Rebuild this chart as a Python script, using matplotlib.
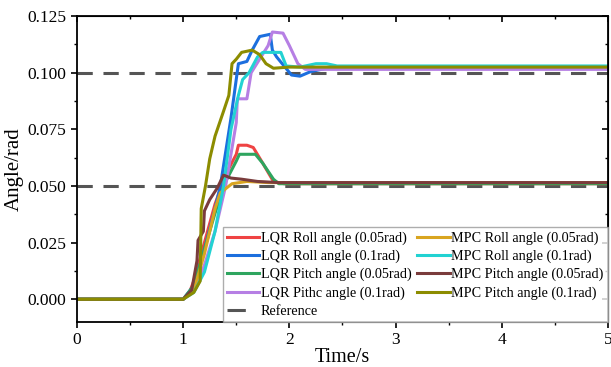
import matplotlib
matplotlib.use("Agg")
import matplotlib.pyplot as plt
from matplotlib.lines import Line2D

plt.rcParams['font.family'] = ['Liberation Serif', 'DejaVu Serif']
plt.rcParams['mathtext.fontset'] = 'stix'

# ---- data ----
t_lqr_roll_005 = [0, 1.0, 1.05, 1.1, 1.2, 1.3, 1.4, 1.5, 1.52, 1.6, 1.66, 1.75, 1.85, 1.95, 2.2, 5]
v_lqr_roll_005 = [0, 0, 0.002, 0.008, 0.025, 0.042, 0.055, 0.064, 0.068, 0.068, 0.067, 0.060, 0.052, 0.051, 0.0510, 0.0510]

t_lqr_roll_01 = [0, 1.0, 1.1, 1.2, 1.3, 1.35, 1.45, 1.52, 1.6, 1.65, 1.72, 1.82, 1.84, 1.88, 1.95, 2.02, 2.1, 2.2, 2.35, 5]
v_lqr_roll_01 = [0, 0, 0.006, 0.022, 0.040, 0.050, 0.080, 0.104, 0.105, 0.110, 0.116, 0.117, 0.110, 0.107, 0.103, 0.099, 0.0985, 0.1005, 0.102, 0.102]

t_lqr_pitch_005 = [0, 1.0, 1.1, 1.2, 1.3, 1.4, 1.5, 1.53, 1.68, 1.75, 1.85, 1.9, 5]
v_lqr_pitch_005 = [0, 0, 0.006, 0.022, 0.038, 0.052, 0.061, 0.064, 0.064, 0.060, 0.053, 0.051, 0.051]

t_lqr_pitch_01 = [0, 1.0, 1.1, 1.2, 1.3, 1.4, 1.5, 1.51, 1.6, 1.64, 1.72, 1.8, 1.84, 1.94, 2.0, 2.08, 2.15, 2.3, 5]
v_lqr_pitch_01 = [0, 0, 0.004, 0.015, 0.030, 0.050, 0.078, 0.0885, 0.0885, 0.100, 0.106, 0.112, 0.118, 0.1175, 0.112, 0.104, 0.1015, 0.1015, 0.1015]

t_mpc_roll_005 = [0, 1.0, 1.1, 1.2, 1.25, 1.3, 1.35, 1.46, 1.6, 1.8, 5]
v_mpc_roll_005 = [0, 0, 0.004, 0.020, 0.030, 0.040, 0.047, 0.051, 0.052, 0.0515, 0.0515]

t_mpc_roll_01 = [0, 1.0, 1.1, 1.2, 1.3, 1.38, 1.45, 1.52, 1.56, 1.62, 1.7, 1.75, 1.92, 1.97, 2.1, 2.25, 2.35, 2.45, 5]
v_mpc_roll_01 = [0, 0, 0.003, 0.012, 0.030, 0.050, 0.075, 0.090, 0.097, 0.100, 0.107, 0.109, 0.109, 0.103, 0.1025, 0.104, 0.104, 0.103, 0.103]

t_mpc_pitch_005 = [0, 1.0, 1.08, 1.13, 1.14, 1.19, 1.2, 1.25, 1.32, 1.38, 1.45, 1.55, 1.7, 1.9, 5]
v_mpc_pitch_005 = [0, 0, 0.004, 0.017, 0.026, 0.030, 0.039, 0.044, 0.049, 0.0548, 0.0535, 0.053, 0.052, 0.0515, 0.0515]

t_mpc_pitch_01 = [0, 1.0, 1.1, 1.16, 1.17, 1.21, 1.25, 1.3, 1.38, 1.43, 1.46, 1.5, 1.55, 1.65, 1.72, 1.78, 1.85, 2.0, 5]
v_mpc_pitch_01 = [0, 0, 0.003, 0.008, 0.040, 0.050, 0.062, 0.072, 0.083, 0.090, 0.104, 0.106, 0.109, 0.110, 0.108, 0.104, 0.102, 0.1025, 0.1025]

ref_levels = [0.05, 0.10]

lqr_labels = ['LQR Roll angle (0.05rad)', 'LQR Roll angle (0.1rad)',
              'LQR Pitch angle (0.05rad)', 'LQR Pithc angle (0.1rad)']
mpc_labels = ['MPC Roll angle (0.05rad)', 'MPC Roll angle (0.1rad)',
              'MPC Pitch angle (0.05rad)', 'MPC Pitch angle (0.1rad)']
ref_label = 'Reference'

x_ticks = [0, 1, 2, 3, 4, 5]
y_ticks = [0.000, 0.025, 0.050, 0.075, 0.100, 0.125]

# ---- plot ----
fig = plt.figure(figsize=(6.11, 3.67), dpi=100)
ax = fig.add_axes([0.126, 0.123, 0.869, 0.833])

lqr_colors = ['#ef4343', '#1c6fde', '#2ea55f', '#b67fe4']
mpc_colors = ['#d9a520', '#22d2d2', '#7a3c3c', '#8c8c00']
lw = 2.2

ref_style = dict(color='#555555', lw=2.2, dashes=(5, 3.5))
for r in ref_levels:
    ax.plot([0, 5], [r, r], **ref_style, zorder=1)

lqr_data = [(t_lqr_roll_005, v_lqr_roll_005), (t_lqr_roll_01, v_lqr_roll_01),
            (t_lqr_pitch_005, v_lqr_pitch_005), (t_lqr_pitch_01, v_lqr_pitch_01)]
mpc_data = [(t_mpc_roll_005, v_mpc_roll_005), (t_mpc_roll_01, v_mpc_roll_01),
            (t_mpc_pitch_005, v_mpc_pitch_005), (t_mpc_pitch_01, v_mpc_pitch_01)]

lqr_handles = []
for (t, v), c, lab in zip(lqr_data, lqr_colors, lqr_labels):
    h, = ax.plot(t, v, color=c, lw=lw, label=lab, zorder=2)
    lqr_handles.append(h)
mpc_handles = []
for (t, v), c, lab in zip(mpc_data, mpc_colors, mpc_labels):
    h, = ax.plot(t, v, color=c, lw=lw, label=lab, zorder=2)
    mpc_handles.append(h)

ref_handle = Line2D([], [], color='#555555', lw=2.2, dashes=(6, 6))

ax.set_xlim(0, 5)
ax.set_ylim(-0.01, 0.125)
ax.set_xticks(x_ticks)
ax.set_yticks(y_ticks)
ax.set_xticklabels([str(x) for x in x_ticks])
ax.set_yticklabels([f'{y:.3f}' for y in y_ticks])
ax.set_xticks([0.5, 1.5, 2.5, 3.5, 4.5], minor=True)
ax.set_yticks([0.0125, 0.0375, 0.0625, 0.0875, 0.1125], minor=True)
ax.tick_params(axis='both', which='major', direction='out', length=4, width=1.2,
               labelsize=12.5, colors='black')
ax.tick_params(axis='both', which='minor', direction='out', length=2.5, width=1.0)
for s in ax.spines.values():
    s.set_linewidth(1.3)

# inward ticks on top and right sides
secx = ax.secondary_xaxis('top')
secx.set_xticks(x_ticks)
secx.set_xticks([0.5, 1.5, 2.5, 3.5, 4.5], minor=True)
secx.tick_params(which='major', direction='in', length=4, width=1.2, labeltop=False)
secx.tick_params(which='minor', direction='in', length=2.5, width=1.0)
secy = ax.secondary_yaxis('right')
secy.set_yticks(y_ticks)
secy.set_yticks([0.0125, 0.0375, 0.0625, 0.0875, 0.1125], minor=True)
secy.tick_params(which='major', direction='in', length=4, width=1.2, labelright=False)
secy.tick_params(which='minor', direction='in', length=2.5, width=1.0)

ax.set_xlabel('Time/s', fontsize=14.5, labelpad=0)
ax.set_ylabel('Angle/rad', fontsize=15, labelpad=3)

leg = ax.legend(lqr_handles + [ref_handle] + mpc_handles,
                lqr_labels + [ref_label] + mpc_labels,
                ncol=2, loc='lower right', bbox_to_anchor=(1.0, 0.0),
                borderaxespad=0.0, fontsize=10.2, frameon=True, fancybox=False,
                handlelength=2.3, handletextpad=0.1, columnspacing=0.4,
                labelspacing=0.34, borderpad=0.3)
leg.get_frame().set_edgecolor('#999999')
leg.get_frame().set_linewidth(1.0)

fig.savefig('out.png', dpi=100)
